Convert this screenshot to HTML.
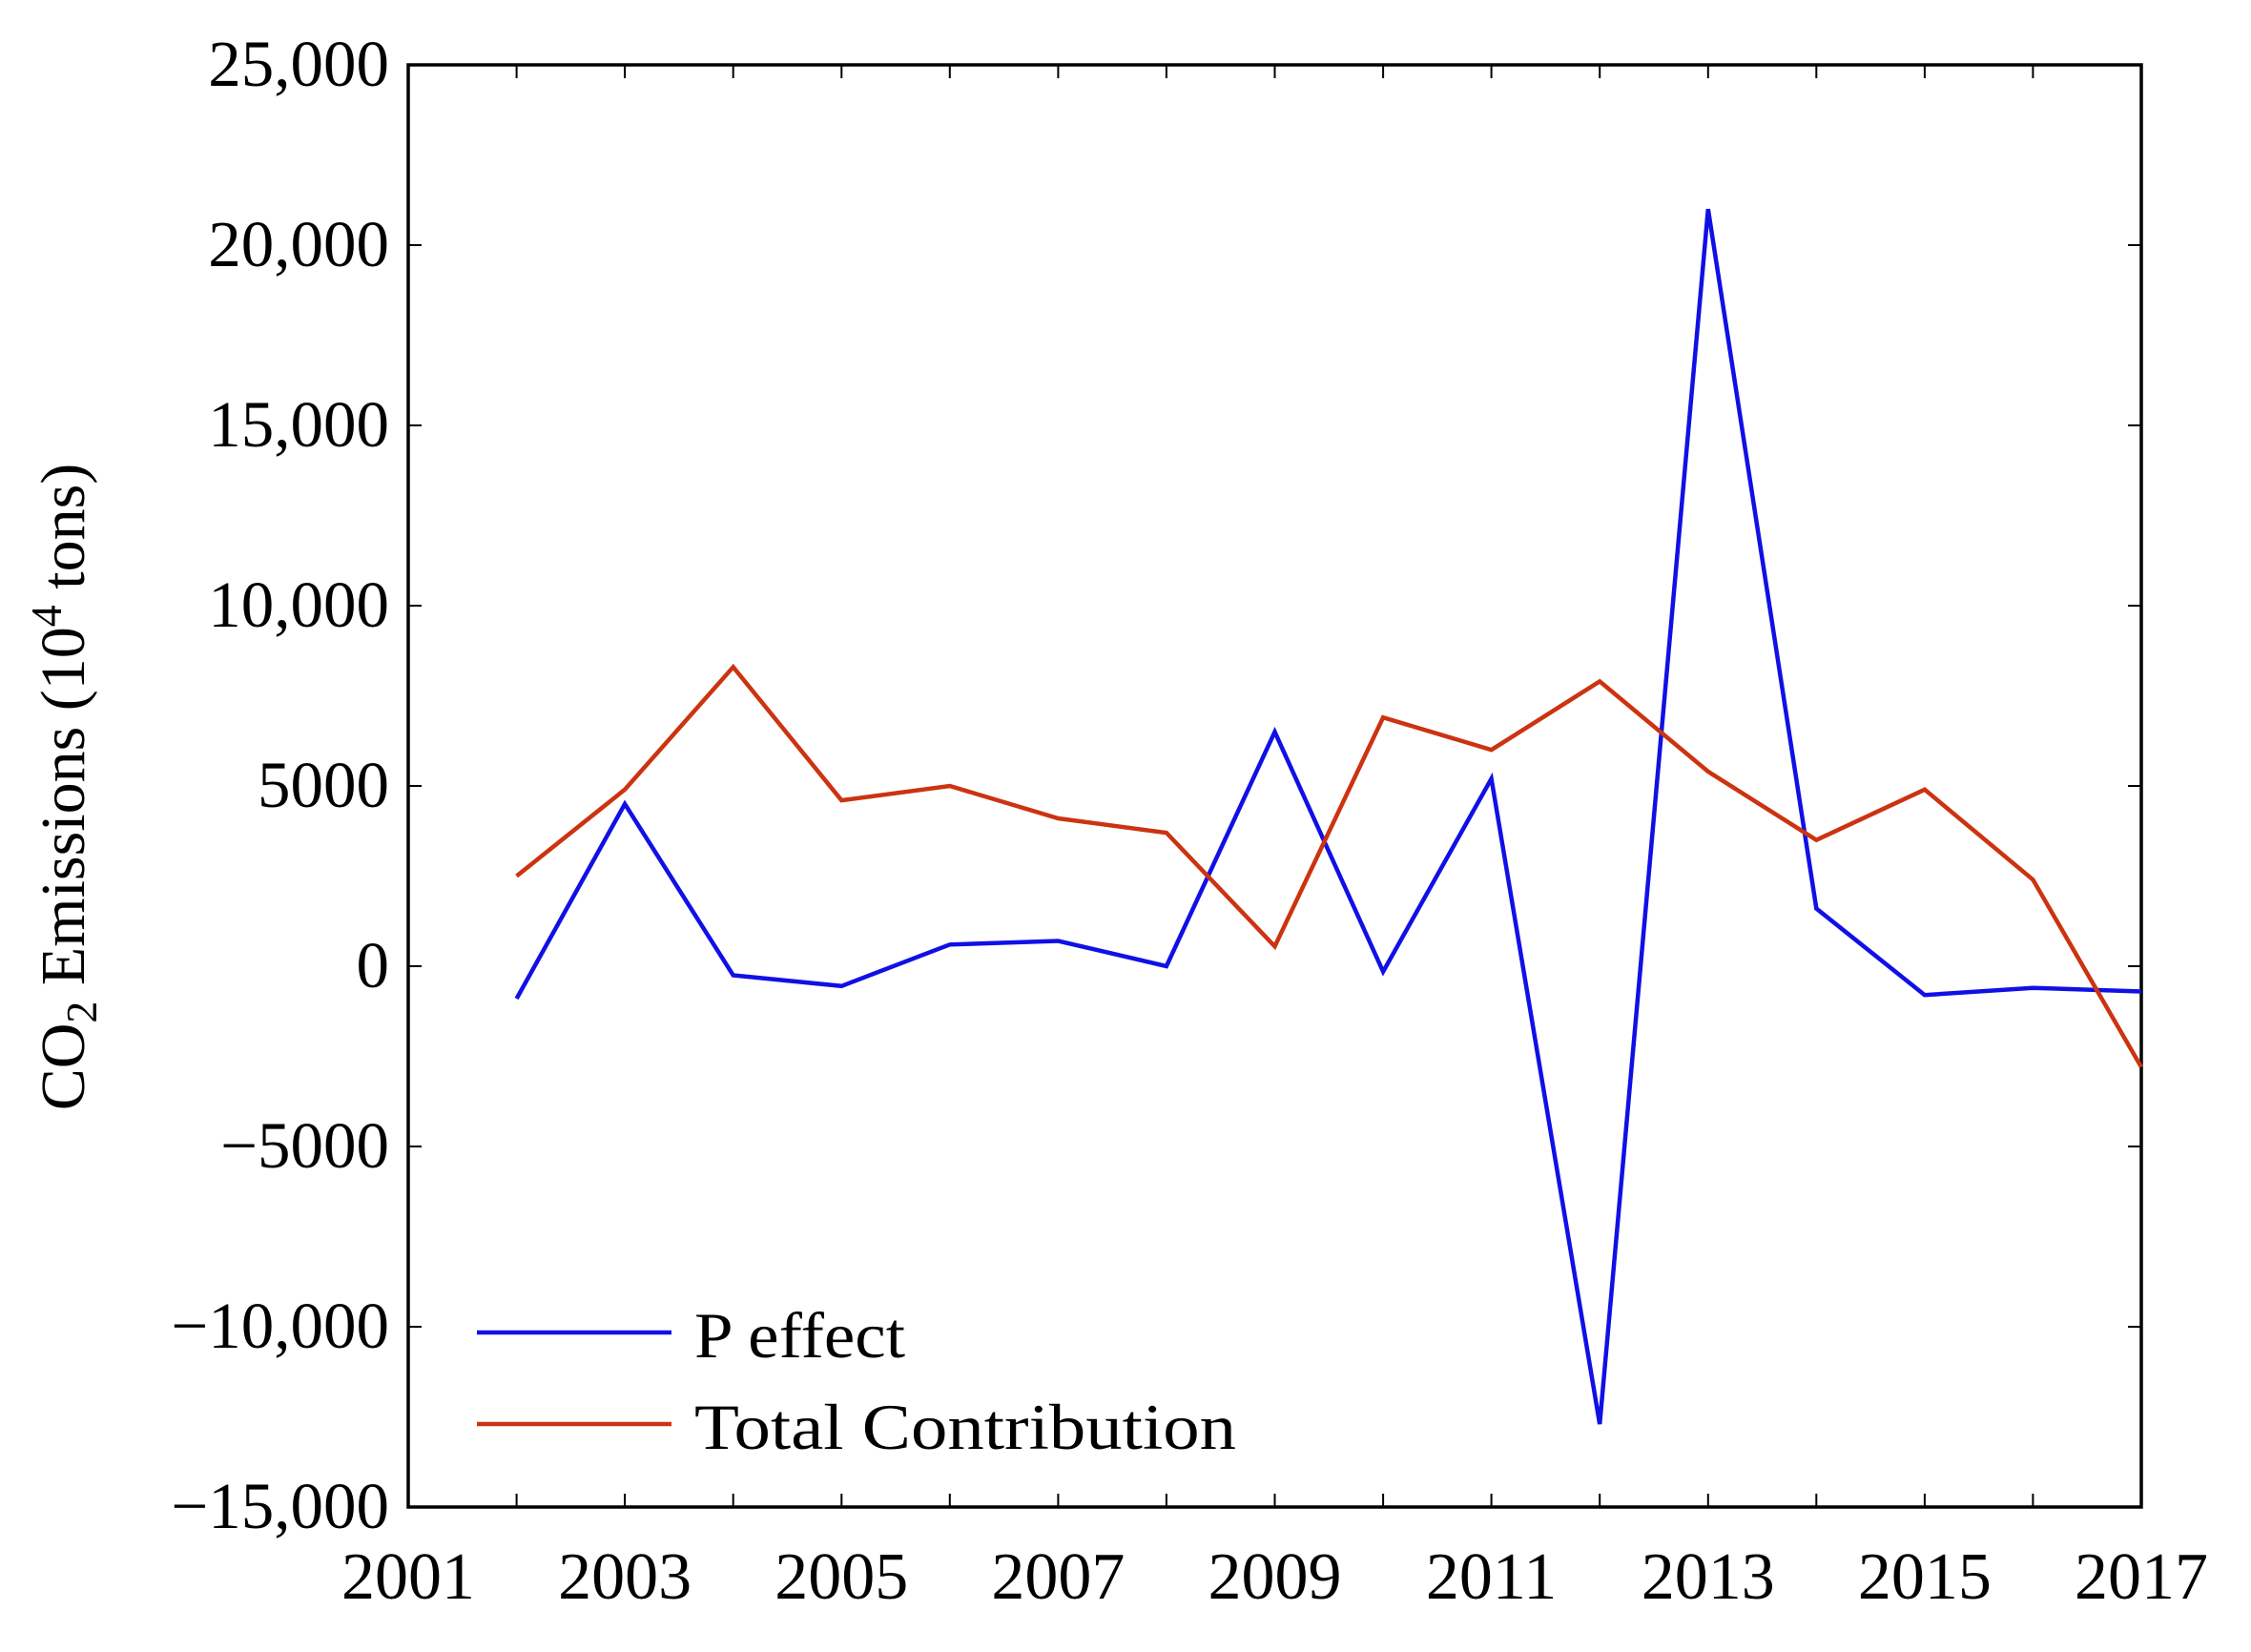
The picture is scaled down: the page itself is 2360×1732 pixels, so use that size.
<!DOCTYPE html>
<html><head><meta charset="utf-8"><style>html,body{margin:0;padding:0;background:#fff}</style></head>
<body>
<svg width="2360" height="1727" xmlns="http://www.w3.org/2000/svg" font-family="Liberation Serif, serif">
<rect width="2360" height="1727" fill="#fff"/>
<g stroke="#000" stroke-width="2">
<line x1="428" x2="442" y1="257" y2="257"/><line x1="2245" x2="2231" y1="257" y2="257"/>
<line x1="428" x2="442" y1="446" y2="446"/><line x1="2245" x2="2231" y1="446" y2="446"/>
<line x1="428" x2="442" y1="635" y2="635"/><line x1="2245" x2="2231" y1="635" y2="635"/>
<line x1="428" x2="442" y1="824" y2="824"/><line x1="2245" x2="2231" y1="824" y2="824"/>
<line x1="428" x2="442" y1="1013" y2="1013"/><line x1="2245" x2="2231" y1="1013" y2="1013"/>
<line x1="428" x2="442" y1="1202" y2="1202"/><line x1="2245" x2="2231" y1="1202" y2="1202"/>
<line x1="428" x2="442" y1="1391" y2="1391"/><line x1="2245" x2="2231" y1="1391" y2="1391"/>
<line x1="541.6" x2="541.6" y1="1580" y2="1566"/><line x1="541.6" x2="541.6" y1="68" y2="82"/>
<line x1="655.1" x2="655.1" y1="1580" y2="1566"/><line x1="655.1" x2="655.1" y1="68" y2="82"/>
<line x1="768.7" x2="768.7" y1="1580" y2="1566"/><line x1="768.7" x2="768.7" y1="68" y2="82"/>
<line x1="882.3" x2="882.3" y1="1580" y2="1566"/><line x1="882.3" x2="882.3" y1="68" y2="82"/>
<line x1="995.8" x2="995.8" y1="1580" y2="1566"/><line x1="995.8" x2="995.8" y1="68" y2="82"/>
<line x1="1109.4" x2="1109.4" y1="1580" y2="1566"/><line x1="1109.4" x2="1109.4" y1="68" y2="82"/>
<line x1="1222.9" x2="1222.9" y1="1580" y2="1566"/><line x1="1222.9" x2="1222.9" y1="68" y2="82"/>
<line x1="1336.5" x2="1336.5" y1="1580" y2="1566"/><line x1="1336.5" x2="1336.5" y1="68" y2="82"/>
<line x1="1450.1" x2="1450.1" y1="1580" y2="1566"/><line x1="1450.1" x2="1450.1" y1="68" y2="82"/>
<line x1="1563.6" x2="1563.6" y1="1580" y2="1566"/><line x1="1563.6" x2="1563.6" y1="68" y2="82"/>
<line x1="1677.2" x2="1677.2" y1="1580" y2="1566"/><line x1="1677.2" x2="1677.2" y1="68" y2="82"/>
<line x1="1790.8" x2="1790.8" y1="1580" y2="1566"/><line x1="1790.8" x2="1790.8" y1="68" y2="82"/>
<line x1="1904.3" x2="1904.3" y1="1580" y2="1566"/><line x1="1904.3" x2="1904.3" y1="68" y2="82"/>
<line x1="2017.9" x2="2017.9" y1="1580" y2="1566"/><line x1="2017.9" x2="2017.9" y1="68" y2="82"/>
<line x1="2131.4" x2="2131.4" y1="1580" y2="1566"/><line x1="2131.4" x2="2131.4" y1="68" y2="82"/>
</g>
<rect x="428" y="68" width="1817" height="1512" fill="none" stroke="#000" stroke-width="3.5"/>
<g font-size="69" text-anchor="end">
<text x="408" y="90">25,000</text>
<text x="408" y="279">20,000</text>
<text x="408" y="468">15,000</text>
<text x="408" y="657">10,000</text>
<text x="408" y="846">5000</text>
<text x="408" y="1035">0</text>
<text x="408" y="1224">−5000</text>
<text x="408" y="1413">−10,000</text>
<text x="408" y="1602">−15,000</text>
</g>
<g font-size="70" text-anchor="middle">
<text x="428" y="1676">2001</text>
<text x="655.1" y="1676">2003</text>
<text x="882.3" y="1676">2005</text>
<text x="1109.4" y="1676">2007</text>
<text x="1336.5" y="1676">2009</text>
<text x="1563.6" y="1676">2011</text>
<text x="1790.8" y="1676">2013</text>
<text x="2017.9" y="1676">2015</text>
<text x="2245" y="1676">2017</text>
</g>
<polyline fill="none" stroke="#1010e6" stroke-width="4.5" points="541.6,1047 655.1,842.9 768.7,1022.5 882.3,1033.8 995.8,990.3 1109.4,986.5 1222.9,1013 1336.5,767.3 1450.1,1018.7 1563.6,816.4 1677.2,1493.1 1790.8,219.2 1904.3,952.5 2017.9,1043.2 2131.4,1035.7 2245,1039.5"/>
<polyline fill="none" stroke="#cc3311" stroke-width="4.5" points="541.6,918.5 655.1,827.8 768.7,699.3 882.3,839.1 995.8,824 1109.4,858 1222.9,873.1 1336.5,992.2 1450.1,752.2 1563.6,786.2 1677.2,714.4 1790.8,808.9 1904.3,880.7 2017.9,827.8 2131.4,922.3 2245,1118.8"/>
<line x1="500" x2="704" y1="1397" y2="1397" stroke="#1010e6" stroke-width="4.5"/>
<text x="728" y="1423" font-size="68" textLength="221" lengthAdjust="spacingAndGlyphs">P effect</text>
<line x1="500" x2="704" y1="1493" y2="1493" stroke="#cc3311" stroke-width="4.5"/>
<text x="728" y="1519" font-size="68" textLength="568" lengthAdjust="spacingAndGlyphs">Total Contribution</text>
<text transform="translate(88,825) rotate(-90)" font-size="66" text-anchor="middle">CO<tspan font-size="46" dy="13">2</tspan><tspan dy="-13"> Emissions (10</tspan><tspan font-size="46" dy="-24">4</tspan><tspan dy="24"> tons)</tspan></text>
</svg>
</body></html>
